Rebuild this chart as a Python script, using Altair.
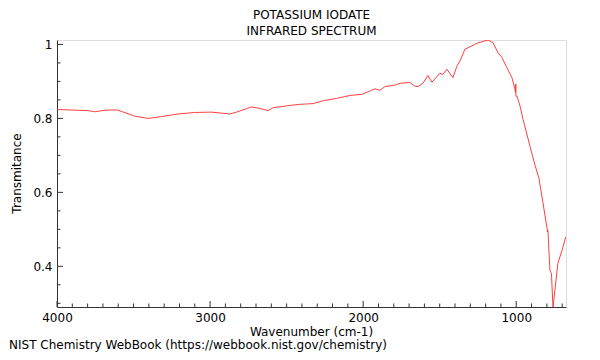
import altair as alt
import pandas as pd

# Spectrum trace (wavenumber cm-1, transmittance)
wavenumber = [4000, 3797, 3754, 3688, 3612, 3579, 3492, 3405, 3318, 3209, 3100, 2991,
              2871, 2827, 2729, 2675, 2621, 2588, 2479, 2414, 2327, 2261, 2174, 2087,
              2010, 1956, 1923, 1891, 1858, 1793, 1760, 1695, 1662, 1642, 1610, 1577,
              1551, 1499, 1479, 1453, 1414, 1388, 1368, 1335, 1290, 1257, 1185, 1152,
              1120, 1094, 1061, 1028, 1008, 1004, 1003, 1002, 995, 975, 955, 910, 878,
              852, 825, 799, 796, 793, 780, 770, 760, 745, 728, 700, 677]
transmittance = [0.824, 0.821, 0.818, 0.822, 0.823, 0.819, 0.806, 0.800, 0.805, 0.812,
                 0.816, 0.817, 0.812, 0.817, 0.831, 0.827, 0.821, 0.829, 0.835, 0.838,
                 0.840, 0.848, 0.854, 0.862, 0.865, 0.874, 0.880, 0.876, 0.886, 0.890,
                 0.895, 0.897, 0.887, 0.886, 0.895, 0.916, 0.898, 0.922, 0.919, 0.933,
                 0.910, 0.941, 0.955, 0.987, 0.996, 1.003, 1.012, 1.005, 0.978, 0.965,
                 0.937, 0.910, 0.878, 0.870, 0.893, 0.860, 0.860, 0.833, 0.797, 0.724,
                 0.674, 0.639, 0.571, 0.503, 0.493, 0.497, 0.389, 0.380, 0.289, 0.345,
                 0.408, 0.445, 0.479]

x_major_ticks = [1000, 2000, 3000, 4000]
x_minor_ticks = [v for v in range(700, 4001, 100) if v % 1000 != 0]
y_major_ticks = [0.4, 0.6, 0.8, 1.0]
y_minor_ticks = [0.3, 0.35, 0.45, 0.5, 0.55, 0.65, 0.7, 0.75, 0.85, 0.9, 0.95]

X_DOMAIN = [675, 4000]
Y_DOMAIN = [0.29, 1.012]
W, H = 509, 267
FONT = "DejaVu Sans"

xs = alt.Scale(domain=X_DOMAIN, reverse=True, nice=False, zero=False)
ys = alt.Scale(domain=Y_DOMAIN, nice=False, zero=False)

df = pd.DataFrame({"wn": wavenumber, "t": transmittance})

line = alt.Chart(df).mark_line(color="#ff2a2a", strokeWidth=0.9, clip=True).encode(
    x=alt.X("wn:Q", scale=xs,
            axis=alt.Axis(values=x_major_ticks, ticks=False, tickSize=0, grid=False,
                          title=None, labelFont=FONT, labelFontSize=12, labelColor="#000",
                          labelPadding=5, labelFlush=False, labelOverlap=False,
                          labelExpr="format(datum.value, 'd')",
                          domainColor="#333", domainWidth=1)),
    y=alt.Y("t:Q", scale=ys,
            axis=alt.Axis(values=y_major_ticks, ticks=False, tickSize=0, grid=False,
                          title=None, labelFont=FONT, labelFontSize=12, labelColor="#000",
                          labelPadding=5, labelFlush=False,
                          labelExpr="format(datum.value, '~g')",
                          domainColor="#333", domainWidth=1)),
    order="idx:Q",
).transform_window(idx="row_number()")

xmaj = alt.Chart(pd.DataFrame({"v": x_major_ticks})).mark_rule(color="#333").encode(
    x=alt.X("v:Q", scale=xs), y=alt.value(H), y2=alt.value(H - 6))
xmin = alt.Chart(pd.DataFrame({"v": x_minor_ticks})).mark_rule(color="#333").encode(
    x=alt.X("v:Q", scale=xs), y=alt.value(H), y2=alt.value(H - 3.5))
ymaj = alt.Chart(pd.DataFrame({"v": y_major_ticks})).mark_rule(color="#333").encode(
    y=alt.Y("v:Q", scale=ys), x=alt.value(0), x2=alt.value(6))
ymin = alt.Chart(pd.DataFrame({"v": y_minor_ticks})).mark_rule(color="#333").encode(
    y=alt.Y("v:Q", scale=ys), x=alt.value(0), x2=alt.value(3.5))

def label(text, x, y, angle=0, align="center"):
    return alt.Chart(pd.DataFrame({"t": [text]})).mark_text(
        font=FONT, fontSize=12, color="#000", align=align, baseline="middle", angle=angle
    ).encode(text="t:N", x=alt.value(x), y=alt.value(y))

texts = [
    label("POTASSIUM IODATE", W / 2, -25),
    label("INFRARED SPECTRUM", W / 2, -9),
    label("Wavenumber (cm-1)", W / 2, 292),
    label("Transmitance", -40, H / 2, angle=270),
    label("NIST Chemistry WebBook (https://webbook.nist.gov/chemistry)", -48, 305, align="left"),
]

chart = alt.layer(line, xmin, xmaj, ymin, ymaj, *texts).properties(
    width=W, height=H,
    autosize=alt.AutoSizeParams(type="none"),
    padding={"left": 49, "top": 32, "right": 26, "bottom": 45},
).configure_view(stroke="#999999", strokeWidth=1.5).configure(background="white")

chart.save("out.html", embed_options={"renderer": "svg", "actions": False})
